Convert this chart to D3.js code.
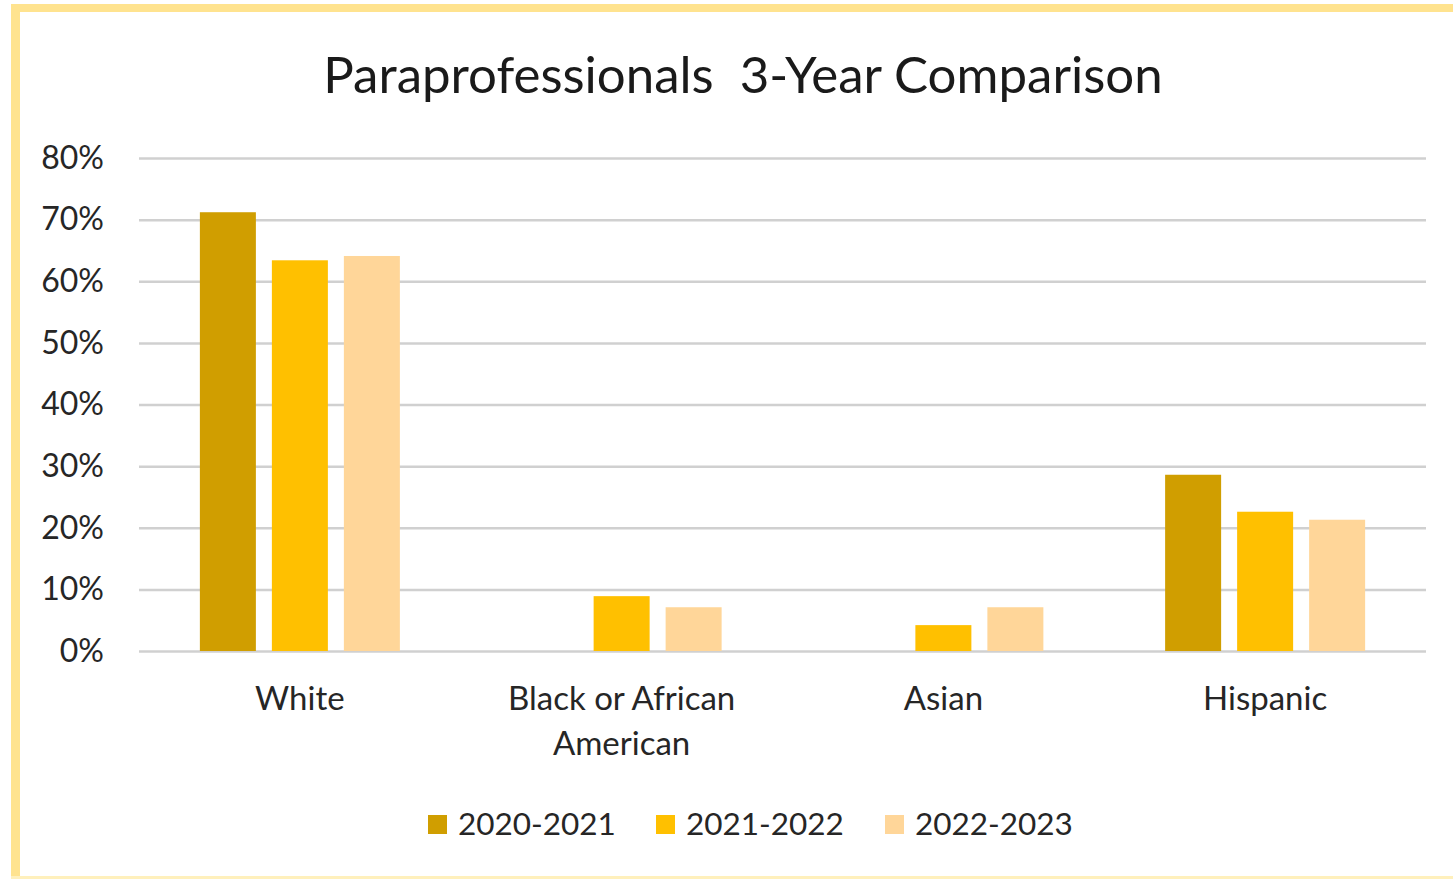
<!DOCTYPE html>
<html><head><meta charset="utf-8">
<script src="https://cdn.jsdelivr.net/npm/d3@7/dist/d3.min.js"></script>
<style>html,body{margin:0;padding:0;background:#fff;}svg{display:block;}</style>
</head><body>
<svg id="chart" width="1453" height="879"></svg>
<script>
const title = "Paraprofessionals  3-Year Comparison";
const categories = ["White", "Black or African American", "Asian", "Hispanic"];
const categoryLines = [["White"], ["Black or African", "American"], ["Asian"], ["Hispanic"]];
const seriesNames = ["2020-2021", "2021-2022", "2022-2023"];
const values2020 = [0.712, 0, 0, 0.286];
const values2021 = [0.634, 0.089, 0.042, 0.226];
const values2022 = [0.641, 0.071, 0.071, 0.213];
const yTicks = [0, 0.1, 0.2, 0.3, 0.4, 0.5, 0.6, 0.7, 0.8];
const colors = ["#D09E00", "#FFC000", "#FFD699"];

(function () {
const seriesValues = [values2020, values2021, values2022];
const font = "Lato, 'Open Sans', sans-serif";
const svg = d3.select("#chart");

svg.append("rect").attr("x", 0).attr("y", 0).attr("width", 1453).attr("height", 879).attr("fill", "#fff");
// frame: strong top and left, faint bottom
svg.append("rect").attr("x", 11).attr("y", 4).attr("width", 1442).attr("height", 8).attr("fill", "#FFE38F");
svg.append("rect").attr("x", 11).attr("y", 4).attr("width", 9).attr("height", 875).attr("fill", "#FFE38F");
svg.append("rect").attr("x", 11).attr("y", 876).attr("width", 1442).attr("height", 3).attr("fill", "#FFF0BC");

const pl = 139, pr = 1426, pt = 158, pb = 651;
const x = d3.scaleBand().domain(categories).range([pl, pr]);
const y = d3.scaleLinear().domain([0, 0.8]).range([pb, pt]);
const barW = 56, barGap = 16;
const groupW = 3 * barW + 2 * barGap;

svg.append("text").attr("x", 743).attr("y", 93).attr("text-anchor", "middle")
  .attr("font-family", font).attr("font-size", 51).attr("fill", "#1a1a1a").style("white-space", "pre")
  .text(title);

const yAxis = d3.axisLeft(y).tickValues(yTicks).tickFormat(d3.format(".0%")).tickSize(-(pr - pl)).tickPadding(35);
const gy = svg.append("g").attr("transform", `translate(${pl},0)`).call(yAxis);
gy.select(".domain").remove();
gy.selectAll(".tick line").attr("stroke", "#d0d0d0").attr("stroke-width", 2.5);
gy.selectAll(".tick text").attr("font-family", font).attr("font-size", 32).attr("fill", "#262626");

seriesValues.forEach((vals, si) => {
  svg.append("g").selectAll("rect").data(categories).join("rect")
    .attr("x", (c) => x(c) + x.bandwidth() / 2 - groupW / 2 + si * (barW + barGap))
    .attr("width", barW)
    .attr("y", (c, i) => y(vals[i]))
    .attr("height", (c, i) => y(0) - y(vals[i]))
    .attr("fill", colors[si]);
});

const xAxis = d3.axisBottom(x).tickSize(0).tickFormat("");
const gx = svg.append("g").attr("transform", `translate(0,${pb})`).call(xAxis);
gx.select(".domain").remove();
categories.forEach((c, i) => {
  const t = svg.append("text").attr("x", x(c) + x.bandwidth() / 2).attr("y", 710)
    .attr("text-anchor", "middle").attr("font-family", font).attr("font-size", 33).attr("fill", "#262626");
  categoryLines[i].forEach((line, li) => {
    t.append("tspan").attr("x", x(c) + x.bandwidth() / 2).attr("dy", li === 0 ? 0 : 45).text(line);
  });
});

const legendX = [428, 656, 885];
seriesNames.forEach((n, i) => {
  svg.append("rect").attr("x", legendX[i]).attr("y", 815).attr("width", 19).attr("height", 19).attr("fill", colors[i]);
  svg.append("text").attr("x", legendX[i] + 30).attr("y", 835).attr("font-family", font).attr("font-size", 31.5)
    .attr("fill", "#262626").text(n);
});
})();
</script>
</body></html>
